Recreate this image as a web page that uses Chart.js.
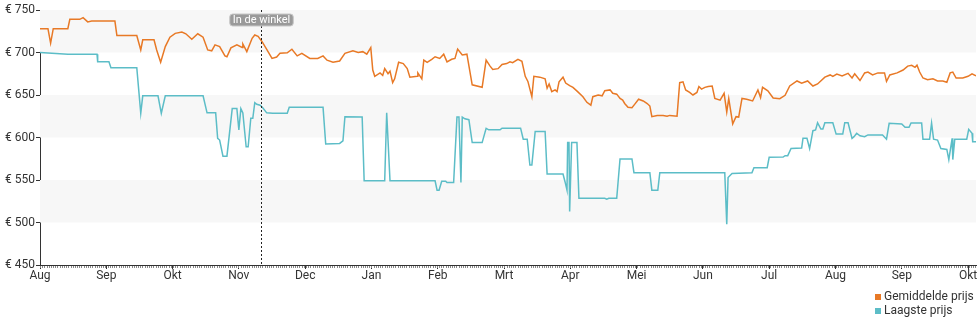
<!DOCTYPE html>
<html>
<head>
<meta charset="utf-8">
<script src="https://cdn.jsdelivr.net/npm/chart.js@4/dist/chart.umd.min.js"></script>
<style>
  html, body { margin: 0; padding: 0; background: #fff; }
  #wrap { width: 980px; height: 325px; position: relative; }
</style>
</head>
<body>
<div id="wrap"><canvas id="c" width="980" height="325"></canvas></div>
<script>
// Month labels along the x axis (x unit = one month, 0 = start of Aug)
const monthLabels = ['Aug','Sep','Okt','Nov','Dec','Jan','Feb','Mrt','Apr','Mei','Jun','Jul','Aug','Sep','Okt'];

// Average price (Gemiddelde prijs)
const avgMonth = [0,0.12,0.16,0.20,0.42,0.45,0.60,0.65,0.72,0.78,1.13,1.16,1.46,1.52,1.55,1.72,1.76,1.82,1.89,1.96,
  2.04,2.14,2.20,2.29,2.38,2.46,2.53,2.59,2.64,2.71,2.79,2.82,2.88,2.97,3.05,3.06,3.12,3.20,3.24,3.29,
  3.35,3.42,3.50,3.57,3.62,3.73,3.80,3.88,3.95,4.07,4.19,4.27,4.33,4.42,4.52,4.60,4.72,4.80,4.87,4.93,
  4.99,5.02,5.05,5.13,5.17,5.20,5.25,5.28,5.32,5.35,5.41,5.48,5.54,5.58,5.69,5.70,5.76,5.79,5.84,5.91,
  5.96,6.03,6.09,6.14,6.21,6.26,6.30,6.37,6.44,6.52,6.67,6.73,6.79,6.83,6.91,6.97,7.04,7.09,7.13,7.21,
  7.27,7.32,7.36,7.42,7.45,7.54,7.62,7.65,7.68,7.72,7.77,7.80,7.83,7.89,7.93,7.99,8.04,8.11,8.19,8.25,
  8.31,8.34,8.42,8.48,8.52,8.60,8.64,8.70,8.75,8.79,8.82,8.87,8.93,8.97,9.03,9.10,9.16,9.20,9.23,9.31,
  9.40,9.46,9.50,9.61,9.65,9.70,9.74,9.80,9.85,9.91,9.94,9.98,10.03,10.08,10.14,10.18,10.26,10.32,10.36,10.39,
  10.45,10.50,10.54,10.59,10.66,10.75,10.83,10.87,10.90,10.98,11.06,11.16,11.24,11.31,11.42,11.49,11.58,11.66,11.73,11.84,
  11.92,11.96,12.02,12.10,12.19,12.25,12.29,12.37,12.44,12.49,12.56,12.64,12.74,12.77,12.82,12.93,13.02,13.09,13.15,13.20,
  13.23,13.27,13.32,13.39,13.47,13.54,13.62,13.68,13.73,13.77,13.82,13.92,14.00,14.06,14.12];
const avgPrice = [728,728,711,728,728,739,739,741,736,737,737,720,720,703,715,715,703,688.5,707,718,
  722.5,724,722,715.5,722,718,703,702,709,707,696,695,705.5,709,706,710,701,716.7,720.6,719,
  712.7,703.8,693,694.6,699,699.6,703.8,696,699,693,693,696,691,688.5,690,699,702,700,701,698,
  705.7,679.4,672,676,673,681,675,678,664.5,669,688.5,687,681,671,672,676,669,691,688.5,692,
  695,693,698,689,692,693,704,697,698,662,659,691,684,680,681,686,687,689,688,692,
  689.7,672,666,648,672,671,669,658,663,654,656,654,665.6,671,664,661,659,654,648,641.4,
  638,648,650,649,655,656,652,651,646,644,640,635.5,635,639,645,643,640,637,624.5,626,
  626,625,626,625,664.5,665.5,656,653,650,653,660,657,659,660,660.6,646,644,652,630,646,
  616,624.5,624,646,645,643,656,647,659,655,646.5,645.7,649.6,660.6,666.5,664,666.5,660.6,663,671,
  673.6,672,674.7,672.5,675.5,670,675,667,676,677,673.6,676,676,666,673.6,676,679.4,684,685,682.5,
  685,677,670,668,669,666.5,666.5,665,676,677,670,670,672,675,672.5];

// Lowest price (Laagste prijs)
const lowMonth = [0,0.42,0.86,0.87,1.04,1.07,1.46,1.52,1.55,1.78,1.83,1.84,1.89,2.46,2.52,2.65,2.68,2.71,2.76,2.82,
  2.90,2.97,3.00,3.03,3.06,3.11,3.14,3.18,3.21,3.24,3.27,3.32,3.36,3.42,3.51,3.73,3.76,4.27,4.31,4.52,
  4.57,4.60,4.86,4.89,5.20,5.23,5.28,5.96,5.99,6.02,6.06,6.12,6.14,6.24,6.29,6.32,6.35,6.37,6.41,6.47,
  6.52,6.67,6.73,6.77,6.94,6.97,7.25,7.29,7.35,7.39,7.42,7.47,7.62,7.65,7.89,7.92,7.95,7.96,7.98,7.99,
  8.02,8.10,8.13,8.52,8.55,8.58,8.70,8.75,8.93,8.96,9.20,9.23,9.32,9.35,10.33,10.36,10.38,10.44,10.74,10.77,
  10.97,11.00,11.21,11.24,11.28,11.33,11.49,11.51,11.57,11.61,11.66,11.70,11.73,11.78,11.81,11.84,11.96,12.01,12.11,12.14,
  12.19,12.25,12.28,12.32,12.37,12.44,12.49,12.71,12.77,12.81,13.00,13.05,13.11,13.14,13.30,13.32,13.42,13.45,13.48,13.54,
  13.59,13.68,13.71,13.76,13.77,13.80,13.98,14.01,14.06,14.07,14.12];
const lowPrice = [700,698,698,689,689,682,682,628.5,649,649,628.5,628.5,649,649,629,629,599,597,578,578,
  634,634,609,634,629,589,589,622.6,622.6,641,639,638,635,629,628.5,628.5,635.5,635.5,592.3,593,
  596,624.5,624,549,549,629,549,549,538,538,548.6,548.6,547,547,624,624,547,624,622,621,
  594,594,610.8,609,609,611,611,598,598,567.6,567.6,607,607,557,557,548,538,594,594,513,
  594,594,528.5,528.5,527.5,528.5,528.5,574.7,574.7,558.6,558.6,538,538,558.6,558.6,498,553,557.6,558.6,564.5,
  564.5,576.7,577,578.6,578.6,587,587.6,599,599,587,608,609,617.4,610,610,617.4,617.4,604,604,617.4,
  617.4,599,601,605,602,601,603,603,598,616.7,616,612,612,617,617,598,598,617,598,597,
  587,586,574,599,574,598,598,609.6,605,595,595];

// Store-visit marker ("In de winkel")
const markerMonth = 3.33;
const markerText = 'In de winkel';

const ORANGE = 'rgb(232,121,38)';
const TEAL = 'rgb(92,189,199)';
const TEXT = '#333';
const FONT = 'Roboto';

const toPoints = (xs, ys) => xs.map((x, i) => ({ x, y: ys[i] }));

// Alternating light bands behind the plot
const bandsPlugin = {
  id: 'bands',
  beforeDatasetsDraw(chart) {
    const { ctx, chartArea: a, scales: { y } } = chart;
    ctx.save();
    ctx.fillStyle = '#f7f7f7';
    [[700, 750], [600, 650], [500, 550]].forEach(([lo, hi]) => {
      const t = y.getPixelForValue(hi), b = y.getPixelForValue(lo);
      ctx.fillRect(a.left, t, a.right - a.left, b - t);
    });
    ctx.restore();
  }
};

// Day ticks under the x axis
const dayTicksPlugin = {
  id: 'dayTicks',
  afterDraw(chart) {
    const { ctx, chartArea: a, scales: { x } } = chart;
    ctx.save();
    ctx.strokeStyle = '#888';
    ctx.lineWidth = 1;
    ctx.beginPath();
    const step = 1 / 30.4;
    for (let v = 0; v <= x.max + 1e-9; v += step) {
      const px = Math.round(x.getPixelForValue(v)) + 0.5;
      ctx.moveTo(px, a.bottom + 1);
      ctx.lineTo(px, a.bottom + 3);
    }
    ctx.stroke();
    ctx.restore();
  }
};

// Dotted marker line with a label box
const markerPlugin = {
  id: 'marker',
  afterDatasetsDraw(chart) {
    const { ctx, chartArea: a, scales: { x } } = chart;
    const px = Math.round(x.getPixelForValue(markerMonth)) + 0.5;
    ctx.save();
    ctx.strokeStyle = '#222';
    ctx.lineWidth = 1;
    ctx.setLineDash([2, 2]);
    ctx.beginPath();
    ctx.moveTo(px, a.top);
    ctx.lineTo(px, a.bottom);
    ctx.stroke();
    ctx.setLineDash([]);
    ctx.font = '11px ' + FONT;
    const w = ctx.measureText(markerText).width + 6;
    const h = 12, top = a.top + 4;
    const left = px - w / 2;
    ctx.fillStyle = '#9a9a9a';
    ctx.strokeStyle = '#c8c8c8';
    ctx.beginPath();
    ctx.roundRect(left, top, w, h, 3);
    ctx.fill();
    ctx.stroke();
    ctx.fillStyle = '#fff';
    ctx.textAlign = 'center';
    ctx.textBaseline = 'middle';
    ctx.fillText(markerText, px, top + h / 2 + 0.5);
    ctx.restore();
  }
};

// Legend in the lower right corner
const legendPlugin = {
  id: 'cornerLegend',
  afterDraw(chart) {
    const { ctx } = chart;
    ctx.save();
    ctx.font = '12px ' + FONT;
    ctx.textBaseline = 'middle';
    ctx.textAlign = 'left';
    chart.data.datasets.forEach((ds, i) => {
      const cy = 297 + i * 14;
      ctx.fillStyle = ds.borderColor;
      ctx.fillRect(875, cy - 3, 6, 6);
      ctx.fillStyle = TEXT;
      ctx.fillText(ds.label, 884, cy);
    });
    ctx.restore();
  }
};

new Chart(document.getElementById('c'), {
  type: 'line',
  data: {
    datasets: [
      { label: 'Gemiddelde prijs', data: toPoints(avgMonth, avgPrice), borderColor: ORANGE, backgroundColor: ORANGE,
        borderWidth: 1.5, pointRadius: 0, tension: 0, fill: false },
      { label: 'Laagste prijs', data: toPoints(lowMonth, lowPrice), borderColor: TEAL, backgroundColor: TEAL,
        borderWidth: 1.5, pointRadius: 0, tension: 0, fill: false }
    ]
  },
  options: {
    responsive: false,
    animation: false,
    events: [],
    layout: { padding: { top: 10, right: 4, left: 0, bottom: 0 } },
    plugins: { legend: { display: false }, tooltip: { enabled: false } },
    scales: {
      x: {
        type: 'linear',
        min: 0,
        max: 14.12,
        // one tick at the start of every month
        afterBuildTicks(scale) { scale.ticks = monthLabels.map((_, i) => ({ value: i })); },
        afterFit(scale) { scale.height = 60; scale.paddingLeft = 0; scale.paddingRight = 0; },
        grid: { drawOnChartArea: false, drawTicks: true, tickLength: 4, color: '#333' },
        border: { display: true, color: '#333', width: 1 },
        ticks: {
          autoSkip: false, maxRotation: 0, padding: 0,
          color: TEXT, font: { family: FONT, size: 12 },
          callback: v => monthLabels[Math.round(v)] ?? ''
        }
      },
      y: {
        min: 450,
        max: 750,
        afterFit(scale) { scale.width = 40; scale.paddingTop = 0; scale.paddingBottom = 0; },
        grid: { drawOnChartArea: false, drawTicks: true, tickLength: 4, color: '#333' },
        border: { display: true, color: '#333', width: 1 },
        ticks: {
          stepSize: 50, padding: 1, color: TEXT, font: { family: FONT, size: 12 },
          callback: v => '€ ' + v
        }
      }
    }
  },
  plugins: [bandsPlugin, dayTicksPlugin, markerPlugin, legendPlugin]
});
</script>
</body>
</html>
